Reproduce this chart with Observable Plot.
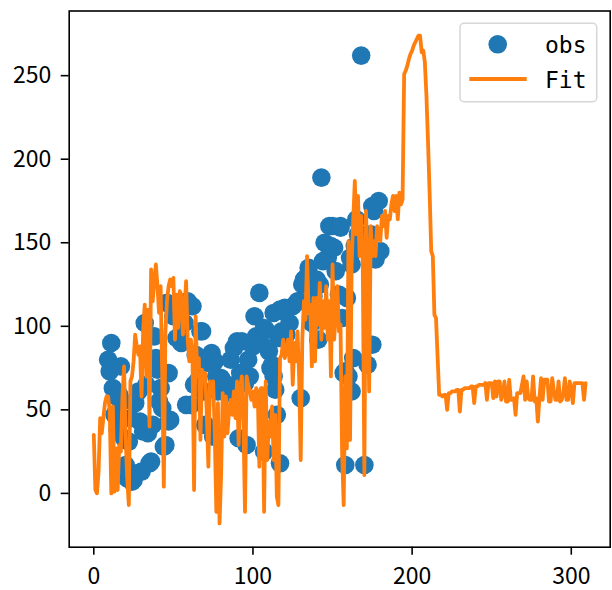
<!DOCTYPE html>
<html>
<head>
<meta charset="utf-8">
<script src="https://cdn.jsdelivr.net/npm/d3@7"></script>
<script src="https://cdn.jsdelivr.net/npm/@observablehq/plot@0.6"></script>
<style>
  html, body { margin: 0; padding: 0; background: #fff; }
  #chart { width: 612px; height: 590px; }
</style>
</head>
<body>
<div id="chart"></div>
<script>
// Observed points (x, y)
const obsX = [9,10,11,12,13,14,15,16,17,18,19,20,21,22,23,24,25,26,27,28,29,30,31,32,33,34,35,36,37,38,39,40,41,42,43,44,45,46,47,47,48,50,52,54,55,57,58,59,60,61,62,63,64,65,67,68,69,70,70,74,75,76,77,78,80,82,84,86,86,88,89,90,91,92,93,94,95,96,97,98,100,101,102,104,105,107,107,108,110,111,112,113,113,114,115,116,117,117,118,119,120,121,123,125,128,129,130,131,132,134,135,137,138,140,141,142,143,144,145,147,148,149,150,151,152,154,155,155,156,157,158,158,159,160,161,162,162,163,164,165,166,167,168,170,172,174,175,175,176,177,179,180];
const obsY = [80,73,90,63,47,58,38,59,76,55,33,17,9,31,45,7,8,54,12,61,43,13,37,102,65,36,18,19,41,94,81,74,55,63,51,28,29,114,72,43,44,106,93,92,90,102,53,115,113,53,112,65,83,67,97,97,61,78,41,84,34,79,70,61,69,65,65,80,60,87,64,91,33,72,91,72,66,29,80,70,88,106,94,120,90,99,25,98,85,75,77,70,108,62,47,93,110,18,97,109,111,95,102,112,115,115,57,125,128,130,135,102,118,128,92,125,189,139,150,141,160,148,160,147,133,119,159,160,105,72,17,73,117,70,141,137,61,81,148,164,155,155,262,17,77,155,89,172,169,140,175,145];

// Fit series, one value per index 0..309
const fitY = [
35,2,0,13,45,36,45,54,58,58,50,0,52,1,27,2,29,25,58,76,
34,9,-7,67,70,79,95,88,83,88,58,97,113,70,110,40,134,115,127,137,
124,108,124,70,4,97,115,124,128,124,129,92,119,99,121,119,95,108,127,92,
79,92,83,2,106,70,81,32,74,70,72,47,16,67,63,67,36,-11,54,-18,
11,60,34,58,36,50,56,47,61,45,67,29,63,70,43,-11,70,65,61,56,
61,52,63,61,16,63,63,-11,67,20,43,34,52,20,47,-2,-7,81,83,92,
81,86,92,79,97,65,90,79,97,70,20,92,115,104,142,108,113,76,117,79,
117,101,126,92,115,99,124,92,115,70,137,92,108,124,97,101,25,-7,70,27,
151,32,137,164,187,155,178,142,166,137,11,169,137,61,160,142,151,142,160,155,
151,166,160,169,153,166,164,173,178,169,178,164,180,173,176,251,253,256,260,263,
265,268,270,272,274,274,264,265,258,238,210,180,145,142,107,105,82,59,59,58,
59,59,50,60,60,61,61,61,62,62,49,62,62,63,63,63,63,64,64,54,
64,64,65,65,65,65,66,56,66,66,66,57,67,58,67,67,56,60,67,55,
55,68,56,56,57,47,60,60,60,65,70,56,67,57,56,56,70,55,57,43,
57,69,56,68,68,68,55,55,69,62,56,56,67,55,56,60,69,56,56,67,
62,54,66,66,66,66,66,66,56,66
];

const xTicks = [0, 100, 200, 300];
const yTicks = [0, 50, 100, 150, 200, 250];
const legendLabels = ["obs", "Fit"];

const obs = obsX.map((x, i) => ({x, y: obsY[i]}));
const fit = fitY.map((y, i) => ({x: i, y}));

const blue = "#1f77b4", orange = "#ff7f0e";
const font = "'Noto Sans CJK SC', 'Noto Sans', sans-serif";

const chart = Plot.plot({
  width: 612,
  height: 590,
  marginLeft: 68.7,
  marginRight: 2.3,
  marginTop: 10.5,
  marginBottom: 43.3,
  style: {fontFamily: font, fontSize: "23px", color: "black", background: "white", overflow: "visible"},
  x: {domain: [-15.45, 324.45]},
  y: {domain: [-32.2, 288.7]},
  marks: [
    Plot.dot(obs, {x: "x", y: "y", r: 9.3, fill: blue, stroke: null}),
    Plot.line(fit, {x: "x", y: "y", stroke: orange, strokeWidth: 3.8, strokeLinejoin: "round"}),
    Plot.frame({stroke: "black", strokeWidth: 1.6}),
    Plot.axisX({ticks: xTicks, tickSize: 8, tickPadding: 12, fontSize: 23, strokeWidth: 1.6, stroke: "black", fill: "black", label: null}),
    Plot.axisY({ticks: yTicks, tickSize: 8, tickPadding: 10, fontSize: 23, strokeWidth: 1.6, stroke: "black", fill: "black", label: null})
  ]
});

document.getElementById("chart").appendChild(chart);

// Legend (matplotlib-style box, upper right)
const svg = d3.select(chart);
const lg = svg.append("g").attr("class", "legend");
lg.append("rect")
  .attr("x", 460).attr("y", 23.3).attr("width", 136.7).attr("height", 78.4)
  .attr("rx", 4).attr("ry", 4)
  .attr("fill", "white").attr("fill-opacity", 0.8)
  .attr("stroke", "#d6d6d6").attr("stroke-width", 1.5);
lg.append("circle").attr("cx", 497.7).attr("cy", 44.3).attr("r", 9.3).attr("fill", blue);
lg.append("line").attr("x1", 469.3).attr("x2", 526.7).attr("y1", 79).attr("y2", 79)
  .attr("stroke", orange).attr("stroke-width", 3.8);
lg.selectAll("text.lab").data(legendLabels).join("text")
  .attr("class", "lab")
  .attr("x", 545)
  .attr("y", (d, i) => i === 0 ? 52.5 : 88)
  .attr("fill", "black")
  .attr("text-anchor", "start")
  .style("font-family", "'DejaVu Sans Mono', 'Liberation Mono', monospace")
  .style("font-size", "23px")
  .text(d => d);
</script>
</body>
</html>
